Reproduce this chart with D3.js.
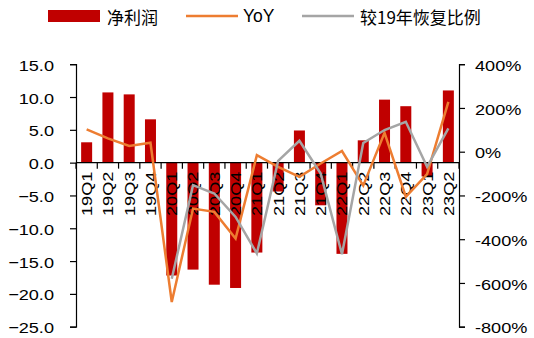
<!DOCTYPE html>
<html>
<head>
<meta charset="utf-8">
<script src="https://cdn.jsdelivr.net/npm/d3@7"></script>
<style>
  html, body { margin: 0; padding: 0; background: #fff; }
  svg { display: block; }
  text { font-family: "Liberation Sans", Arial, sans-serif; fill: #000; }
  .cjk { font-family: "Noto Sans CJK SC", "Liberation Sans", sans-serif; }
</style>
</head>
<body>
<svg id="chart" width="534" height="338"></svg>
<script>
// Quarterly net profit (亿元, left axis) with YoY and recovery vs 2019 (%, right axis)
const quarters = ["19Q1","19Q2","19Q3","19Q4","20Q1","20Q2","20Q3","20Q4",
                  "21Q1","21Q2","21Q3","21Q4","22Q1","22Q2","22Q3","22Q4","23Q1","23Q2"];
const netProfit = [3.1, 10.7, 10.4, 6.6, -17.2, -16.3, -18.6, -19.1,
                   -13.7, -4.4, 4.9, -6.5, -13.9, 3.4, 9.6, 8.6, -2.1, 11.0];
const yoy = [102, 61, 26, 41, -687, -260, -275, -397,
             -16, -69, -115, -54, 3, -155, 86, -206, -102, 228];
const recovery = [null, null, null, null, -581, -153, -191, -298,
                  -465, -42, 50, -100, -469, 40, 99, 137, -69, 107];
const leftTicks = [15, 10, 5, 0, -5, -10, -15, -20, -25];
const rightTicks = [400, 200, 0, -200, -400, -600, -800];
const seriesNames = ["净利润", "YoY", "较19年恢复比例"];

const colors = { bar: "#C00000", yoy: "#ED7D31", rec: "#A5A5A5" };
const stretch = 1.17; // horizontally widened glyphs

const svg = d3.select("#chart");
svg.append("rect").attr("width", 534).attr("height", 338).attr("fill", "#fff");

const plot = { left: 76, right: 459, top: 64.2, bottom: 326.7 };

const x = d3.scaleBand().domain(quarters).range([plot.left, plot.right]).padding(0);
const yL = d3.scaleLinear().domain([-25, 15]).range([plot.bottom, plot.top]);
const yR = d3.scaleLinear().domain([-800, 400]).range([plot.bottom, plot.top]);

// bars
const barW = 11;
svg.append("g").selectAll("rect").data(quarters).join("rect")
  .attr("x", (d) => x(d) + x.bandwidth() / 2 - barW / 2)
  .attr("y", (d, i) => yL(Math.max(0, netProfit[i])))
  .attr("width", barW)
  .attr("height", (d, i) => Math.abs(yL(netProfit[i]) - yL(0)))
  .attr("fill", colors.bar);

// left axis
const gL = svg.append("g").attr("transform", `translate(${plot.left},0)`)
  .call(d3.axisLeft(yL).tickValues(leftTicks).tickFormat(d3.format(".1f")).tickSize(6).tickPadding(0));
gL.select(".domain").attr("stroke", "#000").attr("stroke-width", 1.2);
gL.selectAll(".tick line").attr("stroke", "#000").attr("stroke-width", 1.2);
gL.selectAll(".tick text")
  .attr("x", null).attr("dy", null)
  .attr("dominant-baseline", "central")
  .attr("transform", `translate(-22,1) scale(${stretch},1)`)
  .attr("font-size", 15.5).attr("text-anchor", "end");

// right axis
const gR = svg.append("g").attr("transform", `translate(${plot.right},0)`)
  .call(d3.axisRight(yR).tickValues(rightTicks).tickFormat((d) => d + "%").tickSize(6).tickPadding(0));
gR.select(".domain").attr("stroke", "#000").attr("stroke-width", 1.2);
gR.selectAll(".tick line").attr("stroke", "#000").attr("stroke-width", 1.2);
gR.selectAll(".tick text")
  .attr("x", null).attr("dy", null)
  .attr("dominant-baseline", "central")
  .attr("transform", `translate(16,1) scale(${stretch},1)`)
  .attr("font-size", 15.5).attr("text-anchor", "start");

// category axis on the zero line
const gX = svg.append("g").attr("transform", `translate(0,${yL(0)})`);
gX.append("line").attr("x1", plot.left).attr("x2", plot.right)
  .attr("stroke", "#000").attr("stroke-width", 1.2);
const bounds = quarters.map((q) => x(q)).concat([plot.right]);
gX.selectAll("line.tk").data(bounds).join("line").attr("class", "tk")
  .attr("x1", (d) => d).attr("x2", (d) => d).attr("y1", 0).attr("y2", 6)
  .attr("stroke", "#000").attr("stroke-width", 1.2);
gX.selectAll("text").data(quarters).join("text")
  .attr("transform", (d) => `translate(${x(d) + x.bandwidth() / 2},9) rotate(-90) scale(${stretch},1)`)
  .attr("dy", "0.35em")
  .attr("text-anchor", "end")
  .attr("font-size", 15.5)
  .text((d) => d);

// lines
const lineFor = (vals) => d3.line()
  .defined((d, i) => vals[i] !== null)
  .x((d) => x(d) + x.bandwidth() / 2)
  .y((d, i) => yR(vals[i]));

svg.append("path").datum(quarters)
  .attr("d", lineFor(yoy))
  .attr("fill", "none").attr("stroke", colors.yoy).attr("stroke-width", 2.5)
  .attr("stroke-linejoin", "miter");
svg.append("path").datum(quarters)
  .attr("d", lineFor(recovery))
  .attr("fill", "none").attr("stroke", colors.rec).attr("stroke-width", 2.5)
  .attr("stroke-linejoin", "miter");

// legend
const lg = svg.append("g");
lg.append("rect").attr("x", 48).attr("y", 10).attr("width", 52).attr("height", 12).attr("fill", colors.bar);
lg.append("text").attr("class", "cjk").attr("x", 107).attr("y", 16).attr("dominant-baseline", "central")
  .attr("font-size", 17).attr("letter-spacing", 0).text(seriesNames[0]);
lg.append("line").attr("x1", 186).attr("x2", 238).attr("y1", 16).attr("y2", 16)
  .attr("stroke", colors.yoy).attr("stroke-width", 2.5);
lg.append("text").attr("x", 243).attr("y", 16).attr("dominant-baseline", "central")
  .attr("font-size", 17.5).text(seriesNames[1]);
lg.append("line").attr("x1", 302).attr("x2", 354).attr("y1", 16).attr("y2", 16)
  .attr("stroke", colors.rec).attr("stroke-width", 2.5);
lg.append("text").attr("class", "cjk").attr("x", 360).attr("y", 16).attr("dominant-baseline", "central")
  .attr("font-size", 17).text(seriesNames[2]);
</script>
</body>
</html>
